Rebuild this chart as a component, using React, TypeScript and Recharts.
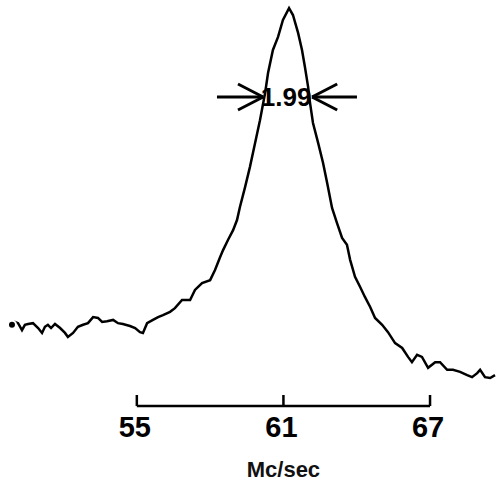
import { LineChart, Line, XAxis, YAxis, ReferenceLine, ReferenceDot } from 'recharts'

// frequency (Mc/sec) and relative signal
const freq = [
  49.89, 50.01, 50.14, 50.3, 50.42, 50.55, 50.75, 50.96, 51.12, 51.24, 51.36, 51.49,
  51.65, 51.86, 52.06, 52.18, 52.39, 52.59, 52.8, 53.0, 53.21, 53.41, 53.58, 53.78,
  54.03, 54.23, 54.43, 54.72, 54.93, 55.13, 55.25, 55.42, 55.66, 55.87, 56.07, 56.36,
  56.56, 56.85, 57.18, 57.38, 57.67, 58.0, 58.2, 58.41, 58.53, 58.73, 58.94, 59.1,
  59.22, 59.43, 59.63, 59.84, 60.04, 60.25, 60.37, 60.57, 60.78, 60.98, 61.23, 61.39,
  61.6, 61.76, 61.88, 62.01, 62.09, 62.21, 62.42, 62.62, 62.79, 62.99, 63.19, 63.4,
  63.6, 63.73, 63.93, 64.14, 64.34, 64.55, 64.75, 65.04, 65.28, 65.57, 65.86, 66.1,
  66.26, 66.47, 66.67, 66.92, 67.21, 67.41, 67.7, 67.94, 68.23, 68.52, 68.72, 68.93,
  69.05, 69.25, 69.46, 69.66,
]
const signal = [
  20.0, 20.7, 20.4, 18.7, 20.0, 20.2, 20.4, 19.2, 18.0, 19.5, 20.0, 19.2,
  20.2, 19.2, 18.0, 17.0, 18.0, 19.5, 20.0, 20.4, 21.9, 21.7, 20.7, 20.9,
  21.2, 20.4, 20.2, 19.7, 19.2, 18.2, 18.0, 20.4, 21.2, 21.9, 22.4, 23.2,
  24.1, 26.1, 26.1, 28.6, 30.3, 31.0, 33.5, 36.7, 38.4, 40.9, 43.3, 45.8,
  49.0, 53.9, 58.9, 64.8, 70.4, 77.1, 82.0, 87.7, 90.9, 95.1, 98.0, 96.3,
  91.9, 87.7, 83.5, 78.6, 74.6, 69.7, 64.8, 59.9, 54.9, 48.8, 45.1, 41.4,
  39.7, 36.0, 31.8, 29.3, 26.8, 24.4, 21.7, 20.0, 18.2, 15.5, 14.3, 12.1,
  10.8, 12.6, 12.1, 9.4, 10.8, 10.8, 8.9, 8.9, 8.4, 7.6, 7.1, 8.1,
  8.9, 7.1, 6.9, 7.6,
]
const scaleTicks = [55, 61, 67]
const unitLabel = 'Mc/sec'
const widthLabel = '1.99'

const data = freq.map((f, i) => ({ f, v: signal[i] }))

// half-width annotation (data coordinates)
const halfLevel = 76.1
const leftArrow = { tail: 58.28, tip: 60.17 }
const rightArrow = { tail: 64.01, tip: 62.17 }
const barbBack = 1.03
const barbSpread = 3.2

const FONT = 'Liberation Sans, Arial, Helvetica, sans-serif'

function FreqTick({ x, y, payload }: any) {
  return (
    <g>
      <line x1={x} x2={x} y1={y - 11} y2={y} stroke="#000" strokeWidth={2.5} />
      <text x={x - 2} y={y + 31} textAnchor="middle" fontFamily={FONT} fontWeight="bold" fontSize={29} fill="#000">
        {payload.value}
      </text>
      {payload.value === 61 && (
        <text x={x} y={y + 71} textAnchor="middle" fontFamily={FONT} fontWeight="bold" fontSize={22} fill="#111">
          {unitLabel}
        </text>
      )}
    </g>
  )
}

function arrowSegments(a: { tail: number; tip: number }) {
  const dir = a.tip > a.tail ? -1 : 1
  const back = a.tip + dir * barbBack
  return [
    [{ x: a.tail, y: halfLevel }, { x: a.tip, y: halfLevel }],
    [{ x: back, y: halfLevel + barbSpread }, { x: a.tip, y: halfLevel }],
    [{ x: back, y: halfLevel - barbSpread }, { x: a.tip, y: halfLevel }],
  ]
}

export default function App() {
  const arrows = [...arrowSegments(leftArrow), ...arrowSegments(rightArrow)]
  return (
    <div style={{ position: 'absolute', left: 0, top: 0, width: 496, height: 485, background: '#fff' }}>
      <LineChart width={496} height={485} data={data} margin={{ top: 0, right: 0, bottom: 0, left: 0 }}>
        <XAxis
          dataKey="f"
          type="number"
          domain={[49.4, 69.7]}
          ticks={scaleTicks}
          axisLine={false}
          tickLine={false}
          tickSize={0}
          tickMargin={0}
          height={79}
          tick={<FreqTick />}
          allowDataOverflow
        />
        <YAxis hide domain={[0, 100]} />
        <ReferenceLine
          segment={[{ x: 55, y: 0 }, { x: 67, y: 0 }]}
          stroke="#000"
          strokeWidth={2.5}
          ifOverflow="visible"
        />
        <Line
          dataKey="v"
          type="linear"
          stroke="#000"
          strokeWidth={2.5}
          dot={false}
          isAnimationActive={false}
        />
        {arrows.map((seg, i) => (
          <ReferenceLine key={i} segment={seg} stroke="#000" strokeWidth={3} ifOverflow="visible" />
        ))}
        <ReferenceDot
          x={61.11}
          y={halfLevel}
          ifOverflow="visible"
          shape={(p: any) => (
            <text x={p.cx} y={p.cy + 9} textAnchor="middle" fontFamily={FONT} fontWeight="bold" fontSize={26} fill="#000">
              {widthLabel}
            </text>
          )}
        />
      </LineChart>
    </div>
  )
}
